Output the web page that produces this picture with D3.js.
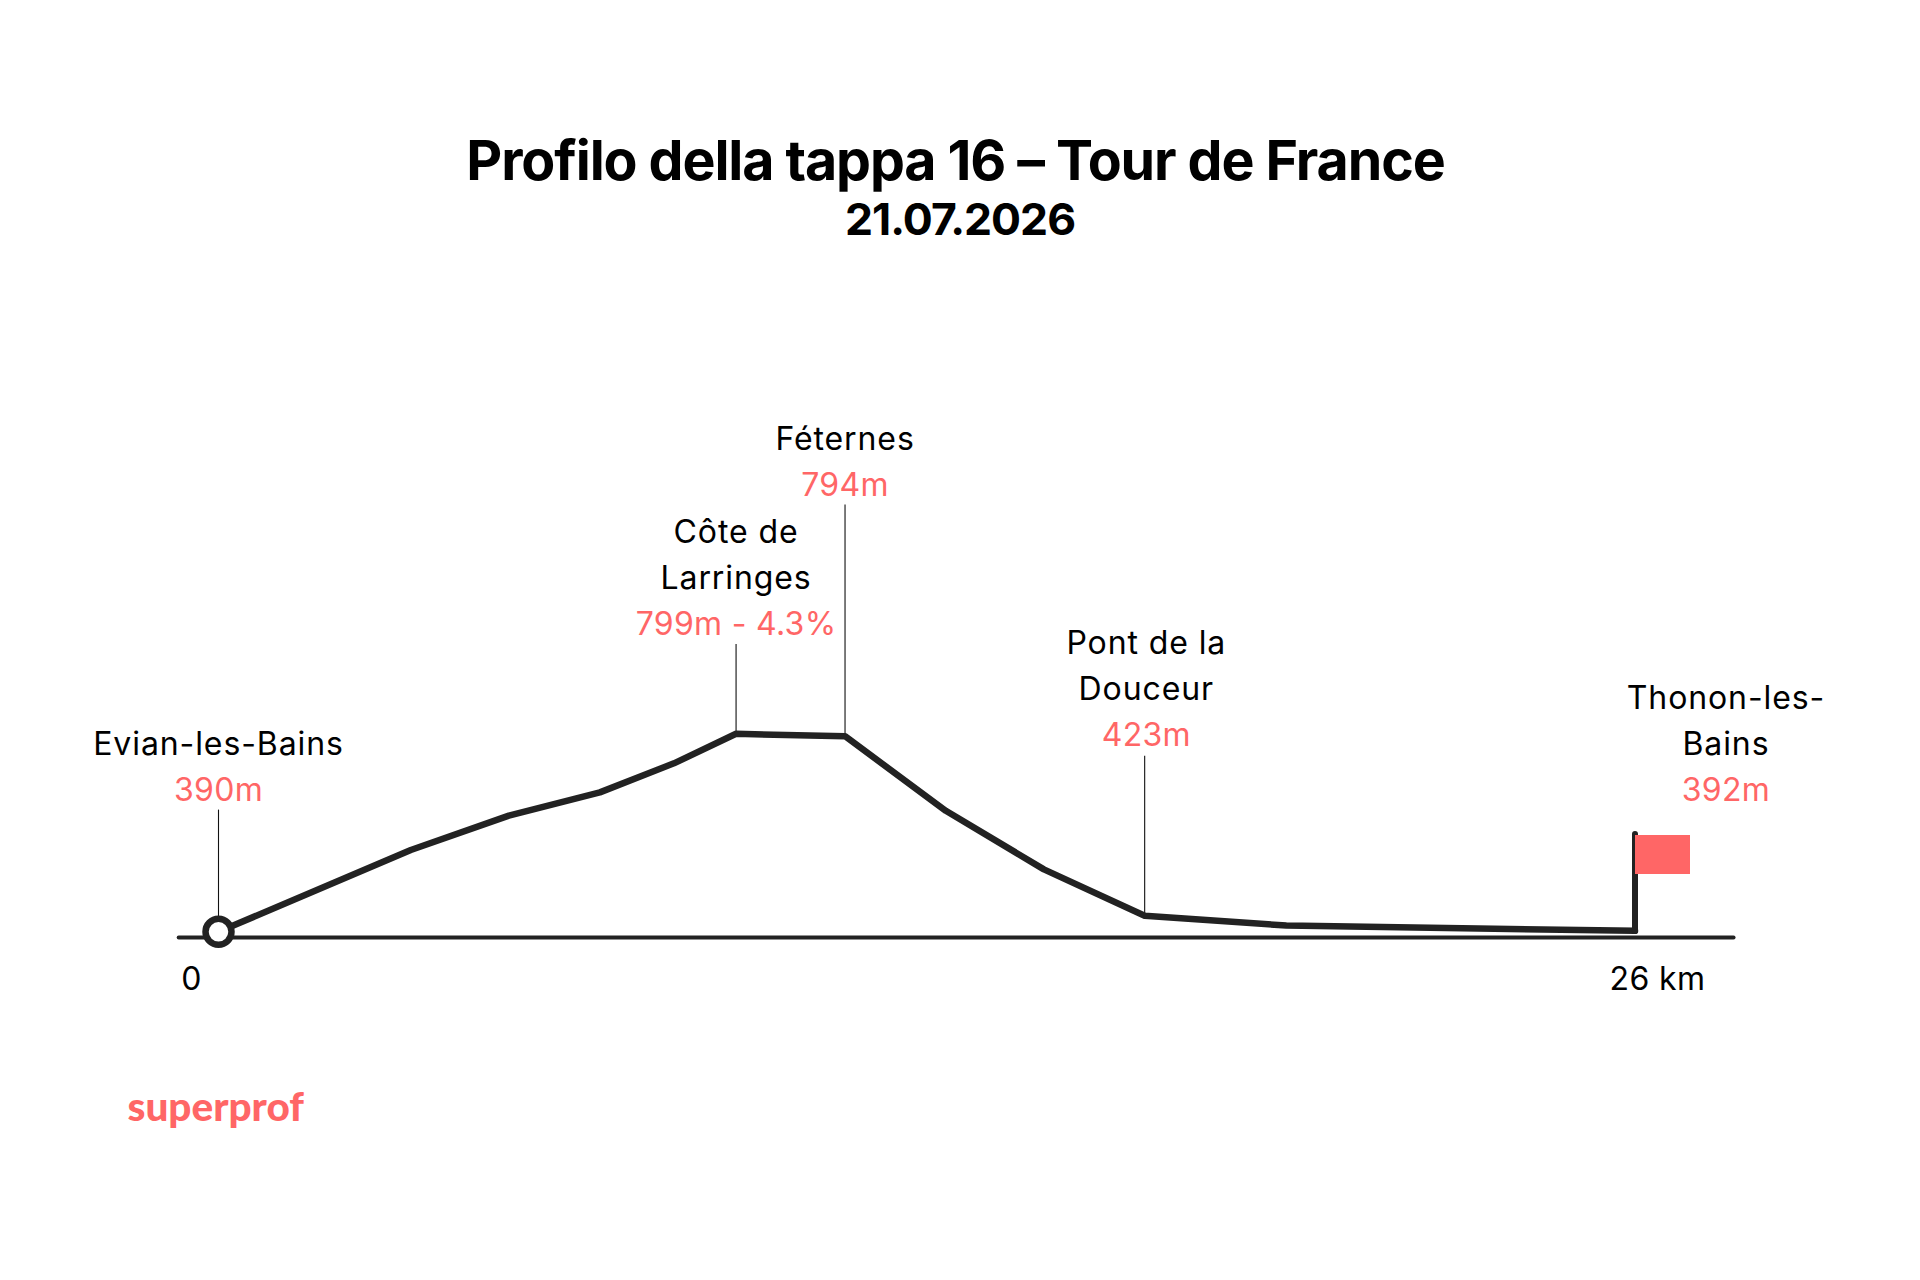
<!DOCTYPE html>
<html><head><meta charset="utf-8">
<script src="https://cdnjs.cloudflare.com/ajax/libs/d3/7.8.5/d3.min.js"></script>
<style>html,body{margin:0;background:#fff}svg{display:block}</style></head>
<body><svg id="c" width="1920" height="1280"></svg>
<script>
const titleText = "Profilo della tappa 16 – Tour de France";
const dateText = "21.07.2026";
const brandText = "superprof";
const profileKm = [0, 3.53, 5.33, 7.0, 8.36, 9.5, 11.5, 13.35, 15.15, 17.0, 19.6, 26];
const profileElev = [390, 559, 630, 678, 738, 799, 794, 640, 519, 423, 403, 392];
const placeKm = [0, 9.5, 11.5, 17.0];
const placeElev = [390, 799, 794, 423];
const placeNames = [["Evian-les-Bains"], ["Côte de", "Larringes"], ["Féternes"], ["Pont de la", "Douceur"], ["Thonon-les-", "Bains"]];
const placeValues = ["390m", "799m - 4.3%", "794m", "423m", "392m"];
const axisTicks = [0, 26];
const axisLabels = ["0", "26 km"];

const coral = "#FF6666", ink = "#222222";
const font = "Inter, 'Noto Sans', sans-serif";
const titleFont = "Inter, Roboto, sans-serif";
const svg = d3.select("#c");

const x = d3.scaleLinear().domain([0, 26]).range([218.5, 1635]);
const y = d3.scaleLinear().domain([390, 799]).range([931.8, 733.8]);
const baseY = 937;

svg.append("text").attr("x", 955.5).attr("y", 180).attr("text-anchor", "middle")
  .attr("font-family", titleFont).attr("font-weight", 700).attr("font-size", 55.5)
  .attr("letter-spacing", -1.1).attr("fill", "#000").text(titleText);
svg.append("text").attr("x", 960).attr("y", 235).attr("text-anchor", "middle")
  .attr("font-family", titleFont).attr("font-weight", 700).attr("font-size", 44.5)
  .attr("letter-spacing", -1).attr("fill", "#000").text(dateText);

const axisScale = x.copy().domain([-0.74, 27.8]).range([x(-0.74), x(27.8)]);
const axis = d3.axisBottom(axisScale).tickValues(axisTicks).tickSize(0).tickPadding(0)
  .tickFormat((d, i) => axisLabels[i]);
const gAxis = svg.append("g").attr("transform", `translate(0,${baseY})`).call(axis);
gAxis.select(".domain").attr("stroke", ink).attr("stroke-width", 4).attr("stroke-linecap", "round");
gAxis.selectAll(".tick line").remove();
gAxis.selectAll(".tick text")
  .attr("font-family", font).attr("font-size", 32).attr("letter-spacing", 0.4).attr("fill", "#000").attr("dy", null)
  .attr("y", 53).attr("text-anchor", "middle")
  .attr("dx", d => d === 0 ? -27.5 : 22);

const leaderTop = [809.6, 644, 504.6, 755.7];
svg.selectAll(".leader").data(placeKm).join("line").attr("class", "leader")
  .attr("x1", d => x(d)).attr("x2", d => x(d))
  .attr("y1", (d, i) => leaderTop[i]).attr("y2", (d, i) => y(placeElev[i]))
  .attr("stroke", "#111").attr("stroke-width", 1.1);

const pts = profileKm.map((k, i) => [x(k), y(profileElev[i])]);
svg.append("path").attr("d", d3.line()(pts)).attr("fill", "none").attr("stroke", ink)
  .attr("stroke-width", 6.5).attr("stroke-linejoin", "round").attr("stroke-linecap", "round");
svg.append("line").attr("x1", x(26)).attr("x2", x(26)).attr("y1", y(392)).attr("y2", 834)
  .attr("stroke", ink).attr("stroke-width", 6).attr("stroke-linecap", "round");
svg.append("rect").attr("x", x(26)).attr("y", 835).attr("width", 55).attr("height", 39).attr("fill", coral);

svg.append("circle").attr("cx", x(0)).attr("cy", y(390)).attr("r", 13)
  .attr("fill", "#fff").attr("stroke", ink).attr("stroke-width", 6.5);

const labelX = [0, 9.5, 11.5, 17.03, 27.67];
const valueBaseline = [801, 635, 496, 746, 801];
const lh = 46;
placeNames.forEach((names, i) => {
  const cx = x(labelX[i]);
  names.forEach((n, j) => {
    svg.append("text").attr("x", cx).attr("y", valueBaseline[i] - lh * (names.length - j))
      .attr("text-anchor", "middle").attr("font-family", font).attr("font-size", 32)
      .attr("letter-spacing", 0.9).attr("fill", "#000").text(n);
  });
  svg.append("text").attr("x", cx).attr("y", valueBaseline[i]).attr("text-anchor", "middle")
    .attr("font-family", font).attr("font-size", 32).attr("letter-spacing", 0.3)
    .attr("fill", coral).text(placeValues[i]);
});
svg.append("text").attr("x", 127.5).attr("y", 1121).attr("font-family", "Lato, sans-serif")
  .attr("font-weight", 900).attr("font-size", 40.5).attr("fill", coral).text(brandText);
</script></body></html>
